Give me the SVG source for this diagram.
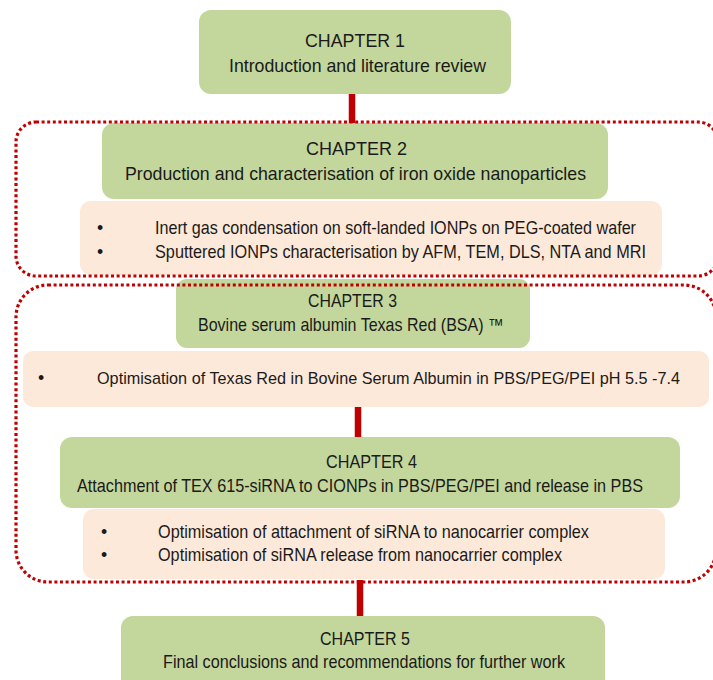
<svg xmlns="http://www.w3.org/2000/svg" width="713" height="680" viewBox="0 0 713 680">
<style>
.g{fill:#c3d69b}
.p{fill:#fde9d9}
.t{font-family:"Liberation Sans",Arial,sans-serif;font-size:17.7px;fill:#1a1a1a}
.dot{fill:none;stroke:#c00000;stroke-width:3.2;stroke-dasharray:3 2.6}
.conn{stroke:#c00000;stroke-width:6.5}
</style>
<rect width="713" height="680" fill="#ffffff"/>
<g id="connectors">
<line class="conn" x1="352" y1="93" x2="352" y2="123"/>
<line class="conn" x1="358" y1="406" x2="358" y2="439"/>
<line class="conn" x1="360" y1="580" x2="360" y2="617"/>
</g>
<g id="ch1">
<rect class="g" x="199" y="10" width="312" height="84" rx="12"/>
<text class="t" x="305" y="47" textLength="100" lengthAdjust="spacingAndGlyphs">CHAPTER 1</text>
<text class="t" x="229" y="72" textLength="257" lengthAdjust="spacingAndGlyphs">Introduction and literature review</text>
</g>
<g id="ch2">
<rect class="g" x="102" y="123" width="506" height="76" rx="12"/>
<text class="t" x="306" y="155" textLength="101" lengthAdjust="spacingAndGlyphs">CHAPTER 2</text>
<text class="t" x="125" y="180" textLength="461" lengthAdjust="spacingAndGlyphs">Production and characterisation of iron oxide nanoparticles</text>
</g>
<g id="ch2-bullets">
<rect class="p" x="80" y="201" width="582" height="74" rx="11"/>
<text class="t" x="97" y="234">•</text>
<text class="t" x="155" y="234" textLength="481" lengthAdjust="spacingAndGlyphs">Inert gas condensation on soft-landed IONPs on PEG-coated wafer</text>
<text class="t" x="97" y="258">•</text>
<text class="t" x="155" y="258" textLength="491" lengthAdjust="spacingAndGlyphs">Sputtered IONPs characterisation by AFM, TEM, DLS, NTA and MRI</text>
</g>
<g id="ch3">
<rect class="g" x="176" y="279" width="354" height="69" rx="11"/>
<text class="t" x="308" y="307" textLength="89" lengthAdjust="spacingAndGlyphs">CHAPTER 3</text>
<text class="t" x="198" y="331" textLength="306" lengthAdjust="spacingAndGlyphs">Bovine serum albumin Texas Red (BSA) ™</text>
</g>
<g id="ch3-bullets">
<rect class="p" x="23" y="351" width="686" height="56" rx="10"/>
<text class="t" x="38" y="384">•</text>
<text class="t" x="97" y="384" style="font-size:16.4px" textLength="583" lengthAdjust="spacingAndGlyphs">Optimisation of Texas Red in Bovine Serum Albumin in PBS/PEG/PEI pH 5.5 -7.4</text>
</g>
<g id="ch4">
<rect class="g" x="60" y="437" width="620" height="71" rx="12"/>
<text class="t" x="326" y="468" textLength="91" lengthAdjust="spacingAndGlyphs">CHAPTER 4</text>
<text class="t" x="77" y="492" textLength="566" lengthAdjust="spacingAndGlyphs">Attachment of TEX 615-siRNA to CIONPs in PBS/PEG/PEI and release in PBS</text>
</g>
<g id="ch4-bullets">
<rect class="p" x="83" y="509" width="582" height="70" rx="11"/>
<text class="t" x="101" y="538">•</text>
<text class="t" x="158" y="538" textLength="431" lengthAdjust="spacingAndGlyphs">Optimisation of attachment of siRNA to nanocarrier complex</text>
<text class="t" x="101" y="561">•</text>
<text class="t" x="158" y="561" textLength="404" lengthAdjust="spacingAndGlyphs">Optimisation of siRNA release from nanocarrier complex</text>
</g>
<g id="ch5">
<rect class="g" x="121" y="616" width="484" height="80" rx="12"/>
<text class="t" x="320" y="645" textLength="90" lengthAdjust="spacingAndGlyphs">CHAPTER 5</text>
<text class="t" x="163" y="668" textLength="402" lengthAdjust="spacingAndGlyphs">Final conclusions and recommendations for further work</text>
</g>
<g id="groups">
<rect class="dot" x="16" y="122" width="702" height="154" rx="20"/>
<rect class="dot" x="16" y="285" width="700" height="297" rx="32"/>
</g>
</svg>
